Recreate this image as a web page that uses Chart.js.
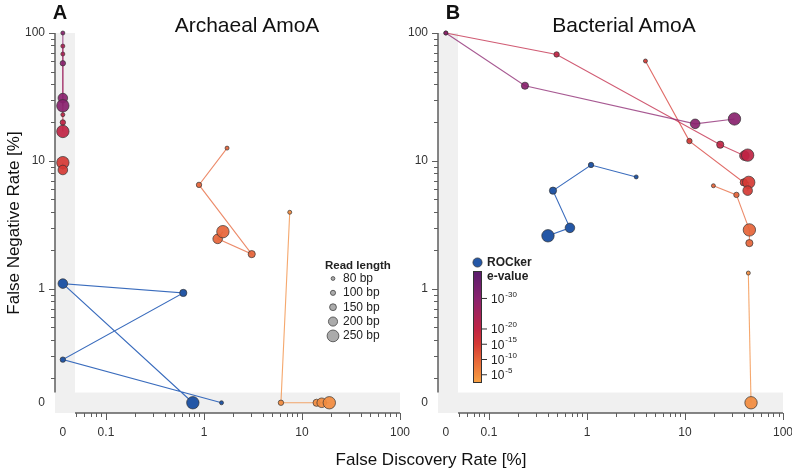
<!DOCTYPE html>
<html lang="en">
<head>
<meta charset="UTF-8">
<title>AmoA read classification</title>
<script src="https://cdn.jsdelivr.net/npm/chart.js"></script>
<style>
    body {
        margin: 0;
        width: 792px;
        height: 471px;
        overflow: hidden;
        background: #fff;
        position: relative;
        font-family: 'Liberation Sans', Arial, sans-serif;
        color: #111;
    }
    canvas { position: absolute; top: 0; }
    #chartA { left: 0; }
    #chartB { left: 383px; }
    .lbl {
        position: absolute;
        transform: translate(-50%, -50%);
        white-space: nowrap;
        line-height: 1;
    }
    .letter { font-weight: bold; font-size: 20px; }
    .title { font-size: 21px; }
</style>
</head>
<body>
<canvas id="chartA" width="422" height="471"></canvas>
<canvas id="chartB" width="422" height="471"></canvas>

<div class="lbl letter" style="left:60px; top:12px;">A</div>
<div class="lbl title" style="left:247px; top:24px;">Archaeal AmoA</div>
<div class="lbl letter" style="left:453px; top:12px;">B</div>
<div class="lbl title" style="left:624px; top:24px;">Bacterial AmoA</div>
<div class="lbl" style="left:431px; top:459px; font-size:17px;">False Discovery Rate [%]</div>

<script>
// ---- data (FDR / FNR in %, read length in bp) ----
const readLengths = [80, 100, 150, 200, 250];
const evalueTicks = [-30, -20, -15, -10, -5];   // colour bar exponents

// A: Archaeal AmoA
const archRockerFdr = [1.51, 0, 0.615, 0, 0.77];
const archRockerFnr = [0, 0.28, 0.93, 1.1, 0];
const archRockerLen = [80, 100, 150, 200, 250];

const archE30Fdr = [0, 0, 0, 0];
const archE30Fnr = [100, 58, 31, 27];
const archE30Len = [80, 100, 200, 250];

const archE20Fdr = [0, 0, 0, 0, 0];
const archE20Fnr = [79, 68.5, 23, 20, 17];
const archE20Len = [80, 80, 80, 100, 250];

const archE15Fdr = [0, 0];
const archE15Fnr = [9.7, 8.5];
const archE15Len = [250, 200];

const archE10Fdr = [1.72, 0.89, 3.07, 1.38, 1.56];
const archE10Fnr = [12.6, 6.5, 1.87, 2.46, 2.8];
const archE10Len = [80, 100, 150, 200, 250];

const archE5Fdr = [7.5, 6.1, 14.1, 15.9, 19];
const archE5Fnr = [3.97, 0, 0, 0, 0];
const archE5Len = [80, 100, 150, 200, 250];

// B: Bacterial AmoA
const bactRockerFdr = [3.18, 1.1, 0.45, 0.67, 0.40];
const bactRockerFnr = [7.5, 9.3, 5.86, 3.0, 2.6];
const bactRockerLen = [80, 100, 150, 200, 250];

const bactE30Fdr = [0, 0.233, 12.7, 32];
const bactE30Fnr = [100, 38.7, 19.5, 21.3];
const bactE30Len = [80, 150, 200, 250];

const bactE20Fdr = [0, 0.49, 22.9, 40.4, 43.6];
const bactE20Fnr = [100, 68, 13.4, 11, 11.1];
const bactE20Len = [80, 100, 150, 200, 250];

const bactE15Fdr = [3.95, 11.1, 39.8, 44.7, 43.6];
const bactE15Fnr = [60.4, 14.3, 6.8, 6.8, 5.86];
const bactE15Len = [80, 100, 150, 250, 200];

const bactE10Fdr = [19.5, 33.5, 45.4, 45.4];
const bactE10Fnr = [6.4, 5.43, 2.89, 2.28];
const bactE10Len = [80, 100, 250, 150];

const bactE5Fdr = [44.3, 47.2];
const bactE5Fnr = [1.33, 0];
const bactE5Len = [80, 250];

// ---- axis layout (log10 space, zero drawn in a separate gutter) ----
const X_MIN = -1.52, X_MAX = 2, ZERO_X = -1.44, BAND_X = -1.316;
const Y_MIN = -0.97, Y_MAX = 2, ZERO_Y = -0.89, BAND_Y = -0.81;
const RADIUS = {80: 2, 100: 2.7, 150: 3.6, 200: 4.8, 250: 6.2};
const ROCKER_BLUE = '#2457a6';

const CB_TOP = -39, CB_BOT = -2.3;
const CB_STOPS = [
    [0, [88, 28, 108]],
    [0.25, [138, 34, 110]],
    [0.52, [192, 36, 68]],
    [0.65, [212, 56, 52]],
    [0.79, [230, 100, 56]],
    [0.93, [242, 140, 62]],
    [1, [247, 164, 70]]
];

function evalueColor(exp, alpha) {
    const t = (exp - CB_TOP) / (CB_BOT - CB_TOP);
    for (let i = 1; i < CB_STOPS.length; i++) {
        const [t1, c1] = CB_STOPS[i];
        const [t0, c0] = CB_STOPS[i - 1];
        if (t <= t1) {
            const f = (t - t0) / (t1 - t0);
            const c = c0.map((v, k) => Math.round(v + (c1[k] - v) * f));
            return `rgba(${c[0]}, ${c[1]}, ${c[2]}, ${alpha})`;
        }
    }
    return 'rgba(247, 164, 70, ' + alpha + ')';
}

const tx = v => v > 0 ? Math.log10(v) : ZERO_X;
const ty = v => v > 0 ? Math.log10(v) : ZERO_Y;

function series(fdr, fnr, len, fill, line) {
    return {
        data: fdr.map((f, i) => ({x: tx(f), y: ty(fnr[i])})),
        showLine: true,
        borderColor: line,
        borderWidth: 1.1,
        backgroundColor: fill,
        pointBackgroundColor: fill,
        pointBorderColor: '#333',
        pointBorderWidth: 0.7,
        pointRadius: len.map(l => RADIUS[l]),
        clip: false
    };
}

function evSeries(fdr, fnr, len, exp) {
    return series(fdr, fnr, len, evalueColor(exp, 0.92), evalueColor(exp, 0.75));
}

function minorTicks(lo, hi) {
    const out = [];
    for (let d = lo; d < hi; d++) {
        for (let m = 1; m < 10; m++) out.push(Math.log10(m) + d);
    }
    out.push(hi);
    return out;
}

function tickLabel(v, zero) {
    if (Math.abs(v - zero) < 1e-6) return '0';
    if (Math.abs(v - Math.round(v)) < 1e-9) {
        const p = Math.round(v);
        return p < 0 ? (Math.pow(10, p)).toFixed(-p) : String(Math.pow(10, p));
    }
    return '';
}

const brokenAxes = {
    id: 'brokenAxes',
    beforeDatasetsDraw(chart) {
        const {ctx, chartArea: a, scales: {x, y}} = chart;
        const bx = x.getPixelForValue(BAND_X);
        const by = y.getPixelForValue(BAND_Y);
        ctx.save();
        ctx.fillStyle = '#f0f0f0';
        ctx.fillRect(a.left, a.top, bx - a.left, a.bottom - a.top);
        ctx.fillRect(a.left, by, a.right - a.left, a.bottom - by);

        ctx.strokeStyle = '#5e5e5e';
        ctx.lineWidth = 1.5;
        ctx.beginPath();
        ctx.moveTo(a.left, a.top);
        ctx.lineTo(a.left, by);
        ctx.moveTo(bx, a.bottom);
        ctx.lineTo(a.right, a.bottom);
        ctx.stroke();

        ctx.lineWidth = 1;
        ctx.beginPath();
        y.ticks.forEach(t => {
            if (t.value === ZERO_Y) return;
            const p = Math.round(y.getPixelForValue(t.value)) + 0.5;
            const len = t.label ? 6 : 4;
            ctx.moveTo(a.left, p);
            ctx.lineTo(a.left - len, p);
        });
        x.ticks.forEach(t => {
            if (t.value === ZERO_X) return;
            const p = Math.round(x.getPixelForValue(t.value)) + 0.5;
            const len = t.label ? 7 : 4;
            ctx.moveTo(p, a.bottom);
            ctx.lineTo(p, a.bottom + len);
        });
        ctx.stroke();
        ctx.restore();
    }
};

const sizeLegend = {
    id: 'sizeLegend',
    afterDatasetsDraw(chart) {
        const {ctx, chartArea: a} = chart;
        const left = a.left + 270, top = a.top + 233;
        ctx.save();
        ctx.fillStyle = '#222';
        ctx.textBaseline = 'middle';
        ctx.font = "bold 11.5px 'Liberation Sans', Arial, sans-serif";
        ctx.fillText('Read length', left, top);
        ctx.font = "12px 'Liberation Sans', Arial, sans-serif";
        readLengths.forEach((l, i) => {
            const cy = top + 12.5 + i * 14.35;
            ctx.beginPath();
            ctx.arc(left + 8, cy, RADIUS[l] * 0.95, 0, Math.PI * 2);
            ctx.fillStyle = '#ababab';
            ctx.fill();
            ctx.strokeStyle = '#444';
            ctx.lineWidth = 0.8;
            ctx.stroke();
            ctx.fillStyle = '#222';
            ctx.fillText(l + ' bp', left + 18, cy);
        });
        ctx.restore();
    }
};

const colorLegend = {
    id: 'colorLegend',
    afterDatasetsDraw(chart) {
        const {ctx, chartArea: a} = chart;
        const bx = a.left + 35, bw = 9, btop = a.top + 238, bh = 112;
        ctx.save();
        ctx.textBaseline = 'middle';
        // ROCker marker
        ctx.beginPath();
        ctx.arc(bx + 4.5, a.top + 229.5, 4.6, 0, Math.PI * 2);
        ctx.fillStyle = ROCKER_BLUE;
        ctx.fill();
        ctx.strokeStyle = '#333';
        ctx.lineWidth = 0.7;
        ctx.stroke();
        ctx.fillStyle = '#222';
        ctx.font = "bold 12px 'Liberation Sans', Arial, sans-serif";
        ctx.fillText('ROCker', bx + 14, a.top + 229.5);
        ctx.fillText('e-value', bx + 14, a.top + 244);

        // colour bar
        const g = ctx.createLinearGradient(0, btop, 0, btop + bh);
        CB_STOPS.forEach(([t, c]) => g.addColorStop(t, `rgb(${c[0]}, ${c[1]}, ${c[2]})`));
        ctx.fillStyle = g;
        ctx.fillRect(bx, btop, bw, bh);
        ctx.strokeStyle = '#333';
        ctx.lineWidth = 1;
        ctx.strokeRect(bx + 0.5, btop + 0.5, bw - 1, bh - 1);

        evalueTicks.forEach(e => {
            const py = btop + (e - CB_TOP) / (CB_BOT - CB_TOP) * bh;
            ctx.beginPath();
            ctx.moveTo(bx + bw, py);
            ctx.lineTo(bx + bw + 5, py);
            ctx.strokeStyle = '#333';
            ctx.stroke();
            ctx.fillStyle = '#222';
            ctx.font = "12px 'Liberation Sans', Arial, sans-serif";
            ctx.fillText('10', bx + bw + 9, py + 1);
            const w = ctx.measureText('10').width;
            ctx.font = "8px 'Liberation Sans', Arial, sans-serif";
            ctx.fillText(String(e), bx + bw + 10 + w, py - 4);
        });
        ctx.restore();
    }
};

function makeChart(id, datasets, showYTitle, extra) {
    return new Chart(document.getElementById(id), {
        type: 'scatter',
        data: {datasets: datasets},
        options: {
            responsive: false,
            animation: false,
            layout: {padding: {top: 33, right: 2, left: 0, bottom: 0}},
            plugins: {legend: {display: false}, tooltip: {enabled: false}},
            scales: {
                x: {
                    type: 'linear',
                    min: X_MIN, max: X_MAX,
                    grid: {display: false, drawTicks: false},
                    border: {display: false},
                    afterFit: s => { s.height = 58; },
                    afterBuildTicks: s => {
                        s.ticks = [ZERO_X].concat(minorTicks(-2, 2).filter(v => v >= BAND_X - 0.02)).map(v => ({value: v}));
                    },
                    ticks: {
                        autoSkip: false, maxRotation: 0, padding: 12,
                        color: '#333', font: {size: 12},
                        callback: v => tickLabel(v, ZERO_X)
                    }
                },
                y: {
                    type: 'linear',
                    min: Y_MIN, max: Y_MAX,
                    grid: {display: false, drawTicks: false},
                    border: {display: false},
                    afterFit: s => { s.width = 55; },
                    afterBuildTicks: s => {
                        s.ticks = [ZERO_Y].concat(minorTicks(-1, 2).filter(v => v >= BAND_Y + 0.05)).map(v => ({value: v}));
                    },
                    ticks: {
                        autoSkip: false, padding: 10,
                        color: '#333', font: {size: 12},
                        callback: v => tickLabel(v, ZERO_Y)
                    },
                    title: {
                        display: showYTitle,
                        text: 'False Negative Rate [%]',
                        color: '#111',
                        font: {size: 17},
                        padding: {top: 4, bottom: 0}
                    }
                }
            }
        },
        plugins: [brokenAxes, extra]
    });
}

Chart.defaults.font.family = "'Liberation Sans', Arial, sans-serif";

makeChart('chartA', [
    series(archRockerFdr, archRockerFnr, archRockerLen, ROCKER_BLUE, '#3a6cbd'),
    evSeries(archE30Fdr, archE30Fnr, archE30Len, -30),
    evSeries(archE20Fdr, archE20Fnr, archE20Len, -20),
    evSeries(archE15Fdr, archE15Fnr, archE15Len, -15),
    evSeries(archE10Fdr, archE10Fnr, archE10Len, -10),
    evSeries(archE5Fdr, archE5Fnr, archE5Len, -5)
], true, sizeLegend);

makeChart('chartB', [
    series(bactRockerFdr, bactRockerFnr, bactRockerLen, ROCKER_BLUE, '#3a6cbd'),
    evSeries(bactE30Fdr, bactE30Fnr, bactE30Len, -30),
    evSeries(bactE20Fdr, bactE20Fnr, bactE20Len, -20),
    evSeries(bactE15Fdr, bactE15Fnr, bactE15Len, -15),
    evSeries(bactE10Fdr, bactE10Fnr, bactE10Len, -10),
    evSeries(bactE5Fdr, bactE5Fnr, bactE5Len, -5)
], false, colorLegend);
</script>
</body>
</html>
